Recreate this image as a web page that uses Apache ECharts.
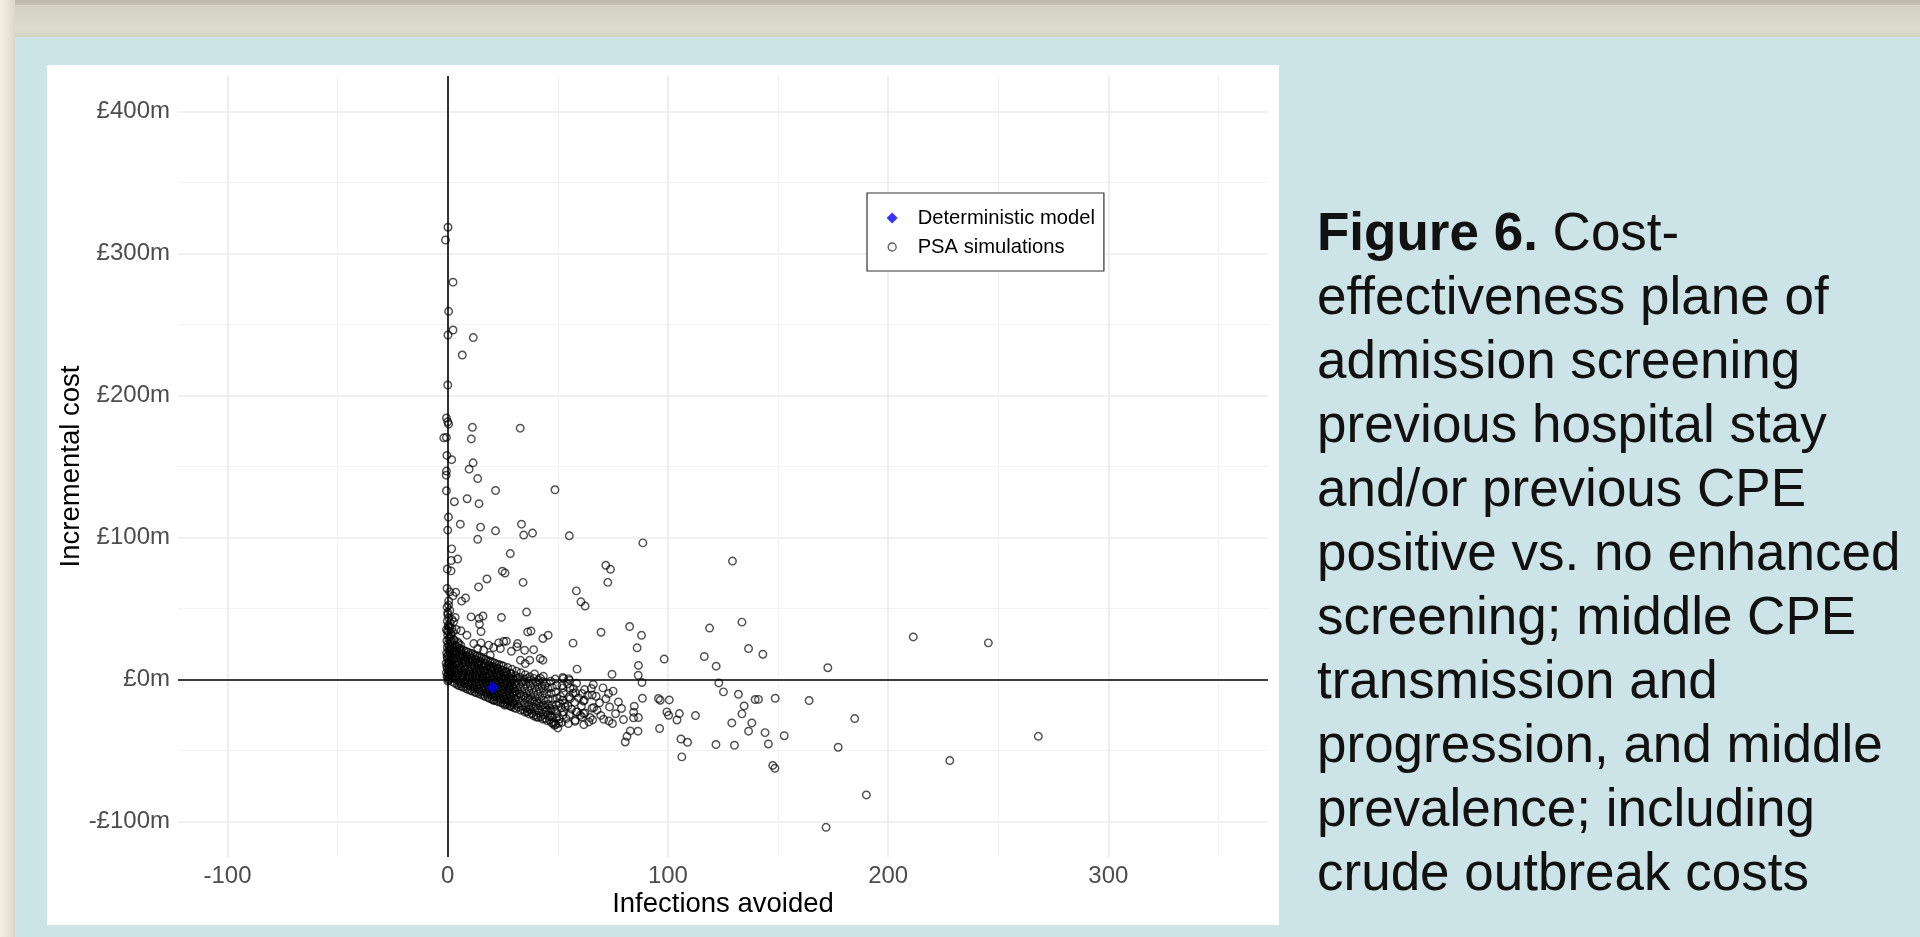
<!DOCTYPE html>
<html><head><meta charset="utf-8">
<script src="https://cdn.jsdelivr.net/npm/echarts@6/dist/echarts.min.js"></script>
<style>html,body{margin:0;padding:0;background:#cce3e7;}#chart{width:1920px;height:937px;}</style>
</head><body><div id="chart"></div>
<script>
// ---------- data ----------
const xMajorTicks = [-100, 0, 100, 200, 300];
const xMinorTicks = [-50, 50, 150, 250, 350];
const yMajorTicks = [-100, 0, 100, 200, 300, 400];
const yMinorTicks = [-50, 50, 150, 250, 350];

const deterministic = [[20.4, -5.6]];

// PSA points close to the vertical axis
const psaAxisCluster = [
[0.1,-1.2],[0.4,0.5],[-0.3,1.8],[0.8,2.6],[0.2,3.9],[-0.6,4.8],[1.1,5.5],[0.3,6.7],[-0.2,7.9],[0.7,8.8],[1.4,9.6],[0.1,10.7],[-0.7,11.5],[0.5,12.4],[1.0,13.6],[-0.1,14.5],[0.6,15.7],[1.6,16.3],[0.2,17.4],[-0.5,18.6],[0.9,19.5],[0.3,20.7],[1.3,21.4],[-0.2,22.6],[0.6,23.8],[0.1,25.1],[1.2,26.2],[-0.4,27.3],[0.5,28.6],[0.9,29.9],[0.0,31.2],[1.5,32.4],[0.3,33.9],[-0.6,35.1],[0.8,36.6],[0.2,38.2],[1.1,39.5],[-0.2,41.2],[0.5,43.5],[0.0,45.8],[0.9,48.6],[-0.3,51.0],[0.4,55.3],
[0.5,-0.4],[1.8,0.9],[-0.1,2.9],[1.3,3.4],[2.0,4.6],[0.9,6.1],[-0.4,9.2],[1.9,7.2],[2.3,10.1],[0.6,11.1],[1.7,12.8],[2.4,14.9],[-0.3,16.0],[1.9,18.2],[2.6,19.6],[1.0,22.3],[2.2,24.0],[1.7,27.0],[2.8,28.1],[1.4,30.6],[2.3,33.4],[-0.2,34.1],[0.4,37.4],[1.9,36.0]
];

// PSA points in the dense downward band
const psaBand = [
[3.2,-2.6],[2.7,0.8],[3.6,4.1],[3.0,7.3],[3.4,10.6],[2.8,13.8],[3.7,17.2],[3.1,20.5],[3.5,23.9],[2.9,27.4],
[4.3,-3.5],[4.0,0.0],[4.6,3.3],[3.9,6.5],[4.4,9.8],[4.1,13.1],[4.7,16.4],[3.8,19.7],[4.2,23.0],[4.5,26.4],
[5.2,-4.4],[4.9,-1.1],[5.5,2.2],[5.0,5.6],[5.3,8.9],[4.8,12.1],[5.6,15.5],[5.1,18.8],[5.4,22.0],[4.9,25.3],
[6.3,-4.8],[5.9,-1.6],[6.5,1.7],[6.1,4.9],[5.8,8.2],[6.4,11.5],[6.0,14.8],[6.6,18.1],[6.2,21.3],[5.9,24.1],
[7.1,-5.5],[7.4,-2.3],[6.9,1.0],[7.3,4.3],[7.6,7.5],[7.0,10.8],[7.5,14.1],[6.8,17.3],[7.2,20.6],
[8.2,-6.3],[7.9,-3.0],[8.5,0.3],[8.1,3.6],[7.8,6.8],[8.4,10.1],[8.0,13.4],[8.6,16.6],[8.3,19.8],
[9.1,-7.0],[9.4,-3.7],[8.9,-0.4],[9.3,2.9],[9.6,6.1],[9.0,9.4],[9.5,12.7],[8.8,15.9],[9.2,19.2],
[10.2,-7.6],[9.9,-4.3],[10.4,-1.0],[10.1,2.3],[9.8,5.6],[10.5,8.9],[10.0,12.1],[10.6,15.4],[10.3,18.5],
[11.1,-8.1],[11.4,-4.8],[10.9,-1.5],[11.3,1.8],[11.6,5.0],[11.0,8.3],[11.5,11.6],[10.8,14.8],[11.2,18.1],
[12.3,-8.9],[11.9,-5.6],[12.5,-2.3],[12.1,1.0],[11.8,4.3],[12.4,7.6],[12.0,10.9],[12.6,14.1],[12.2,17.2],
[13.0,-9.4],[13.4,-6.1],[12.9,-2.8],[13.3,0.5],[13.6,3.7],[13.1,7.0],[13.5,10.3],[12.8,13.5],[13.2,16.6],
[14.2,-10.0],[13.9,-6.7],[14.5,-3.4],[14.1,-0.1],[13.8,3.2],[14.4,6.5],[14.0,9.8],[14.6,13.0],[14.3,16.0],
[15.1,-10.6],[15.4,-7.3],[14.9,-4.0],[15.3,-0.7],[15.6,2.5],[15.0,5.8],[15.5,9.1],[14.8,12.4],[15.2,15.3],
[16.3,-11.3],[15.9,-8.0],[16.5,-4.7],[16.1,-1.4],[15.8,1.9],[16.4,5.1],[16.0,8.4],[16.6,11.7],[16.2,14.6],
[17.0,-12.0],[17.4,-8.7],[16.9,-5.4],[17.3,-2.1],[17.6,1.2],[17.1,4.4],[17.5,7.7],[16.8,11.0],[17.2,14.2],
[18.3,-12.7],[17.9,-9.4],[18.5,-6.1],[18.1,-2.8],[17.8,0.5],[18.4,3.8],[18.0,7.1],[18.6,10.3],[18.2,13.4],
[19.1,-13.4],[19.4,-10.1],[18.9,-6.8],[19.3,-3.5],[19.6,-0.2],[19.0,3.0],[19.5,6.3],[18.8,9.6],[19.2,12.8],
[20.2,-13.9],[19.9,-10.6],[20.5,-7.3],[20.1,-4.0],[19.8,-0.7],[20.4,2.6],[20.0,5.8],[20.6,9.1],[20.3,12.2],
[21.1,-14.6],[21.4,-11.3],[20.9,-8.0],[21.3,-4.7],[21.6,-1.4],[21.0,1.9],[21.5,5.1],[20.8,8.4],[21.2,11.7],
[22.3,-15.1],[21.9,-11.8],[22.5,-8.5],[22.1,-5.2],[21.8,-1.9],[22.4,1.4],[22.0,4.6],[22.6,7.9],[22.2,11.0],
[23.0,-15.7],[23.4,-12.4],[22.9,-9.1],[23.3,-5.8],[23.6,-2.5],[23.1,0.8],[23.5,4.0],[22.8,7.3],[23.2,10.6],
[24.2,-16.3],[23.9,-13.0],[24.5,-9.7],[24.1,-6.4],[23.8,-3.1],[24.4,0.2],[24.0,3.5],[24.6,6.8],[24.3,9.9],
[25.1,-16.8],[25.4,-13.5],[24.9,-10.2],[25.3,-6.9],[25.6,-3.6],[25.0,-0.3],[25.5,3.0],[24.8,6.2],[25.2,9.5],
[26.3,-17.4],[25.9,-14.1],[26.5,-10.8],[26.1,-7.5],[25.8,-4.2],[26.4,-0.9],[26.0,2.4],[26.6,5.6],
[27.0,-17.9],[27.4,-14.6],[26.9,-11.3],[27.3,-8.0],[27.6,-4.7],[27.1,-1.4],[27.5,1.9],[26.8,5.1],[27.2,8.4],
[28.3,-18.6],[27.9,-15.3],[28.5,-12.0],[28.1,-8.7],[27.8,-5.4],[28.4,-2.1],[28.0,1.2],[28.6,4.4],
[29.1,-19.2],[29.4,-15.9],[28.9,-12.6],[29.3,-9.3],[29.6,-6.0],[29.0,-2.7],[29.5,0.6],[28.8,3.9],[29.2,7.2],
[30.2,-19.9],[29.9,-16.6],[30.5,-13.3],[30.1,-10.0],[29.8,-6.7],[30.4,-3.4],[30.0,-0.1],
[31.1,-20.5],[31.4,-17.2],[30.9,-13.9],[31.3,-10.6],[31.6,-7.3],[31.0,-4.0],[31.5,-0.7],[30.8,2.6],[31.2,5.9],
[33.1,-21.6],[33.4,-18.3],[32.9,-15.0],[33.3,-11.7],[33.6,-8.4],[33.0,-5.1],[33.5,-1.8],[32.8,1.5],[33.2,4.8],
[35.1,-23.0],[35.4,-19.7],[34.9,-16.4],[35.3,-13.1],[35.6,-9.8],[35.0,-6.5],[35.5,-3.2],[34.8,0.1],[35.2,3.4],
[37.1,-24.4],[37.4,-21.1],[36.9,-17.8],[37.3,-14.5],[37.6,-11.2],[37.0,-7.9],[37.5,-4.6],[36.8,-1.3],[37.2,2.0],
[39.1,-25.6],[39.4,-22.3],[38.9,-19.0],[39.3,-15.7],[39.6,-12.4],[39.0,-9.1],[39.5,-5.8],[38.8,-2.5],[39.2,0.8],[39.4,3.9],
[41.1,-26.7],[41.4,-23.4],[40.9,-20.1],[41.3,-16.8],[41.6,-13.5],[41.0,-10.2],[41.5,-6.9],[40.8,-3.6],[41.2,-0.3],
[43.1,-27.8],[43.4,-24.5],[42.9,-21.2],[43.3,-17.9],[43.6,-14.6],[43.0,-11.3],[43.5,-8.0],[42.8,-4.7],[43.2,-1.4],[43.4,2.3],
[45.1,-29.0],[45.4,-25.2],[44.9,-21.5],[45.3,-17.6],[45.6,-13.8],[45.0,-10.1],[45.5,-6.2],[44.8,-2.5],
[47.1,-30.4],[47.4,-26.3],[46.9,-22.1],[47.3,-18.0],[47.6,-13.9],[47.0,-9.8],[47.5,-5.6],[46.8,-1.2],
[49.1,-31.5],[49.4,-27.0],[48.9,-22.4],[49.3,-17.9],[49.6,-13.2],[49.0,-8.7],[49.5,-4.1],[48.8,0.3],
[51.8,-30.2],[52.3,-25.1],[51.6,-19.8],[52.1,-14.6],[52.5,-9.5],[51.9,-4.2],[52.2,1.5],
[54.8,-31.0],[55.3,-24.7],[54.6,-18.5],[55.1,-12.2],[55.5,-6.0],[54.9,0.6],
[57.8,-29.5],[58.3,-22.8],[57.6,-16.1],[58.1,-9.4],[58.5,-2.7],
[61.8,-31.8],[62.3,-23.6],[61.6,-15.2],[62.1,-7.1],
[65.8,-28.4],[66.3,-19.7],[65.6,-10.9],[66.1,-3.5]
];

// extra PSA points filling the core of the band
const psaCore = [
[2.2,-1.5],[3.8,2.5],[5.7,-2.9],[6.8,3.1],[8.7,-4.9],[9.7,1.2],[11.7,-6.6],[12.7,2.8],[14.7,-8.5],[15.7,0.9],[17.7,-10.3],[18.7,-0.9],[20.7,-12.1],[21.7,-2.8],[23.7,-13.9],[24.7,-4.8],[26.7,-15.8],[27.7,-6.5],[29.7,-17.6],[30.7,-8.4],[32.2,-19.4],[32.6,-10.2],[34.2,-21.2],[34.6,-11.8],[36.2,-22.7],[36.6,-13.6],[38.2,-24.0],[38.6,-15.1],[40.2,-25.1],[40.6,-16.4],[42.2,-26.2],[42.6,-18.6],[44.2,-27.6],[44.6,-19.8],[46.2,-28.4],[46.6,-20.3],[48.2,-29.8],[48.6,-21.0],[50.4,-30.8],[50.8,-16.7],
[2.1,21.6],[3.3,15.3],[5.8,20.2],[7.7,12.3],[9.8,17.0],[11.9,9.5],[13.7,12.1],[16.7,6.4],[19.7,8.1],[22.7,3.3],[25.7,5.0],[28.7,0.2],[31.8,1.2],[34.2,-1.6],[36.1,0.7],[40.1,-1.9],[42.1,0.9],[44.1,-4.4],
[53.8,-27.5],[56.2,-20.9],[59.4,-13.0],[60.7,-18.7],[63.5,-11.2],[64.1,-29.9],[68.9,-16.4],[69.5,-25.3],[71.8,-13.6],[76.2,-24.1],[77.5,-15.8],[75.1,-8.2],[78.9,-20.4],[54.4,-3.1],[56.9,-9.7],[50.7,-27.9],[51.2,-11.8],[53.1,-16.9]
];

// PSA points scattered above the band
const psaUpper = [
[0.1,318.5],[-1.0,309.5],[2.4,279.8],[0.4,259.3],[2.4,246.1],[0.1,242.6],[11.6,240.8],[6.6,228.5],[0.0,207.4],[-0.6,184.2],[0.0,181.5],[0.4,179.8],[11.2,177.6],[32.9,177.0],[-1.8,170.2],[-0.6,170.5],[10.7,169.4],[-0.4,157.8],[1.8,154.8],[11.5,152.6],[9.7,148.1],[-0.6,146.8],[-0.7,143.9],[13.6,141.5],[-0.6,132.9],[21.7,133.1],[48.7,133.6],[3.0,125.2],[8.8,127.3],[14.2,123.8],[0.3,114.4],[0.0,105.2],[5.7,109.4],[14.9,107.3],[21.7,104.7],[33.5,109.4],[34.5,101.7],[38.5,103.1],[55.2,101.2],[13.6,98.7],[88.6,96.2],[1.8,92.0],[4.5,84.8],[1.6,83.8],[28.4,88.7],[71.8,80.4],[73.9,77.6],[24.8,76.3],[26.0,75.0],[-0.2,77.8],[1.5,76.5],[72.7,68.4],[129.3,83.4],[17.8,70.8],[14.0,65.2],[34.2,68.4],[-0.3,64.1],[0.9,61.7],[3.6,61.5],[2.4,58.9],[8.1,57.4],[6.3,55.2],[0.4,52.4],[0.0,47.2],[35.8,47.5],[58.4,62.4],[60.5,54.7],[62.4,51.7],
[10.6,44.1],[14.2,43.0],[16.0,44.7],[14.4,39.0],[15.1,33.8],[24.4,43.7],[36.3,33.5],[37.8,34.1],[43.2,28.9],[45.6,31.2],[56.9,25.6],[69.6,33.3],[82.6,37.3],[88.0,31.1],[118.9,36.2],[133.6,40.4],[86.0,22.3],[136.6,21.8],[143.1,17.8],[116.5,16.2],[98.3,14.4],[86.6,9.9],[58.7,7.3],[121.9,9.4],[74.6,3.7],[86.5,3.0],[172.6,8.3],[211.4,30.0],[245.5,25.8],
[31.7,25.3],[34.9,20.6],[39.0,21.0],[42.0,14.8],[43.2,13.6],[25.4,26.8],[23.1,25.8],[26.6,27.0],[18.6,24.2],[20.8,22.5],[23.9,21.8],[16.3,20.6],[19.3,17.1],[11.8,25.3],[8.7,31.2],[6.0,34.3],[3.9,35.2],[2.7,40.6],[3.4,43.7],[1.9,42.3],[13.6,21.8],[15.1,25.8],[28.9,19.9],[31.4,23.0],[33.0,13.6],[35.2,11.2],[37.2,13.6]
];

// PSA points scattered below / right of the band
const psaLower = [
[88.2,-2.1],[123.1,-2.4],[125.2,-8.7],[132.0,-10.4],[139.6,-14.1],[141.1,-14.0],[148.7,-13.2],[164.1,-14.8],[134.6,-18.6],[133.6,-24.2],[138.1,-30.6],[129.0,-30.6],[136.6,-36.4],[144.1,-37.4],[152.8,-39.6],[145.6,-45.4],[130.2,-46.3],[121.8,-45.8],[112.5,-25.4],[105.2,-24.0],[104.1,-28.5],[99.5,-22.8],[100.3,-25.2],[95.7,-13.4],[96.5,-14.6],[100.6,-14.4],[88.4,-13.2],[84.7,-18.8],[84.4,-23.0],[84.4,-27.0],[86.6,-26.8],[79.8,-28.2],[74.8,-31.0],[73.2,-29.2],[70.8,-28.0],[82.9,-36.2],[81.4,-40.0],[80.6,-44.0],[86.4,-36.4],[96.2,-34.5],[105.9,-41.9],[108.9,-44.2],[106.3,-54.5],[73.5,-19.3],[73.0,-9.9],[70.5,-5.9],[67.4,-11.8],[65.2,-6.3],[65.5,-20.2],[61.0,-9.9],[62.0,-14.6],[61.7,-24.0],[60.2,-25.2],[64.7,-26.8],[67.8,-21.6],[48.5,-32.2],[50.0,-34.1],[40.2,-26.4],[44.6,-22.8],[46.6,-26.4],[47.8,-31.0],[49.6,-24.0],[36.0,-22.8],[37.0,-20.9],[25.8,-18.1],[28.4,-18.6],[20.8,-14.6],
[184.8,-27.5],[177.3,-47.7],[268.2,-40.0],[228.0,-57.1],[190.1,-81.3],[171.8,-104.1],[147.6,-60.5],[148.6,-62.5],
[52.6,0.7],[55.3,-0.5],[57.1,-6.3],[52.3,-5.9],[53.4,-19.3],[52.6,-22.8],[58.7,-22.8],[57.9,-28.7],[60.9,-26.4],[55.6,-13.4]
];

const captionLines = [
  ['Figure 6.', ' Cost-'],
  ['', 'effectiveness plane of'],
  ['', 'admission screening'],
  ['', 'previous hospital stay'],
  ['', 'and/or previous CPE'],
  ['', 'positive vs. no enhanced'],
  ['', 'screening; middle CPE'],
  ['', 'transmission and'],
  ['', 'progression, and middle'],
  ['', 'prevalence; including'],
  ['', 'crude outbreak costs']
];

// ---------- chart ----------
const FONT = '"Liberation Sans", Arial, Helvetica, sans-serif';
const psaAll = psaAxisCluster.concat(psaBand, psaCore, psaUpper, psaLower);
const captionText = captionLines.map(function (l) {
  return (l[0] ? '{b|' + l[0] + '}' : '') + '{r|' + l[1] + '}';
}).join('\n');

const chart = echarts.init(document.getElementById('chart'), null, {renderer: 'canvas'});
const yFmt = function (v) { return v < 0 ? '-£' + (-v) + 'm' : '£' + v + 'm'; };

const diamondIcon = 'path://M0,0L0,0M26,11L26,11M5.5,0L11,5.5L5.5,11L0,5.5Z';
const circleIcon = 'path://M0,0L0,0M26,11L26,11M9.5,5.5A4,4,0,1,1,1.5,5.5A4,4,0,1,1,9.5,5.5Z';

chart.setOption({
  animation: false,
  backgroundColor: '#cce3e7',
  textStyle: {fontFamily: FONT},
  graphic: [
    {type: 'rect', z: -10, silent: true, shape: {x: 0, y: 0, width: 1920, height: 37},
     style: {fill: {type: 'linear', x: 0, y: 0, x2: 0, y2: 1, colorStops: [
       {offset: 0, color: '#bdbaad'}, {offset: 0.12, color: '#c4c1b4'}, {offset: 0.14, color: '#d4d2c4'},
       {offset: 0.5, color: '#d8d6c8'}, {offset: 0.75, color: '#dddbcd'}, {offset: 0.95, color: '#d8d6c8'},
       {offset: 1, color: '#d0cebf'}]}}},
    {type: 'rect', z: -10, silent: true, shape: {x: 0, y: 0, width: 15, height: 937},
     style: {fill: {type: 'linear', x: 0, y: 0, x2: 1, y2: 0, colorStops: [
       {offset: 0, color: '#f1eee4'}, {offset: 0.6, color: '#e6e2d6'}, {offset: 1, color: '#d9d6ca'}]}}},
    {type: 'rect', z: -10, silent: true, shape: {x: 47, y: 65, width: 1232, height: 860},
     style: {fill: '#ffffff'}},
    {type: 'text', z: 10, silent: true, x: 1317, y: 203.5,
     style: {text: captionText, fill: '#111111', font: '53px ' + FONT, lineHeight: 64,
       verticalAlign: 'top', align: 'left',
       rich: {
         b: {fontSize: 53, fontWeight: 'bold', fontFamily: FONT, lineHeight: 64, fill: '#111111'},
         r: {fontSize: 53, fontWeight: 'normal', fontFamily: FONT, lineHeight: 64, fill: '#111111'}
       }}}
  ],
  grid: {left: 178, top: 76, width: 1090, height: 781, containLabel: false, outerBoundsMode: 'none'},
  legend: {
    orient: 'vertical', left: 867, top: 193,
    itemWidth: 26, itemHeight: 11, itemGap: 9,
    padding: [15, 9, 14, 19],
    borderColor: '#333333', borderWidth: 1.2, borderRadius: 0, backgroundColor: '#ffffff',
    selectedMode: false,
    textStyle: {fontSize: 20.2, color: '#000000', fontFamily: FONT, lineHeight: 20},
    data: [
      {name: 'Deterministic model', icon: diamondIcon, itemStyle: {color: '#0000ff', borderWidth: 0}},
      {name: 'PSA simulations', icon: circleIcon, itemStyle: {color: '#ffffff', borderColor: '#333333', borderWidth: 1.3}}
    ]
  },
  xAxis: [
    {type: 'value', min: -122.5, max: 372.5, gridIndex: 0,
     name: 'Infections avoided', nameLocation: 'middle', nameGap: 33, nameMoveOverlap: false,
     nameTextStyle: {fontSize: 27.5, color: '#000000', fontFamily: FONT},
     axisLine: {show: false}, axisTick: {show: false, customValues: xMajorTicks},
     axisLabel: {customValues: xMajorTicks, fontSize: 24, color: '#4d4d4d', margin: 7.5, fontFamily: FONT},
     splitLine: {show: true, lineStyle: {color: '#ebebeb', width: 1.7}}},
    {type: 'value', min: -122.5, max: 372.5, gridIndex: 0,
     axisLine: {show: false}, axisTick: {show: false, customValues: xMinorTicks},
     axisLabel: {show: false},
     splitLine: {show: true, lineStyle: {color: '#f2f2f2', width: 1.1}}}
  ],
  yAxis: [
    {type: 'value', min: -125, max: 425, gridIndex: 0,
     name: 'Incremental cost', nameLocation: 'middle', nameGap: 93, nameRotate: 90, nameMoveOverlap: false,
     nameTextStyle: {fontSize: 27.5, color: '#000000', fontFamily: FONT},
     axisLine: {show: false}, axisTick: {show: false, customValues: yMajorTicks},
     axisLabel: {customValues: yMajorTicks, fontSize: 24, color: '#4d4d4d', margin: 8, fontFamily: FONT, formatter: yFmt, padding: [5, 0, 0, 0]},
     splitLine: {show: true, lineStyle: {color: '#ebebeb', width: 1.7}}},
    {type: 'value', min: -125, max: 425, gridIndex: 0,
     axisLine: {show: false}, axisTick: {show: false, customValues: yMinorTicks},
     axisLabel: {show: false},
     splitLine: {show: true, lineStyle: {color: '#f2f2f2', width: 1.1}}}
  ],
  series: [
    {type: 'scatter', name: 'refLines', xAxisIndex: 0, yAxisIndex: 0, data: [], z: 2, silent: true,
     markLine: {silent: true, symbol: ['none', 'none'], label: {show: false},
       lineStyle: {color: '#000000', width: 1.6, type: 'solid'},
       emphasis: {disabled: true},
       data: [{xAxis: 0}, {yAxis: 0}]}},
    {type: 'scatter', name: 'PSA simulations', xAxisIndex: 0, yAxisIndex: 0, data: psaAll, z: 3,
     symbol: 'circle', symbolSize: 7.5, silent: true,
     itemStyle: {color: 'rgba(255,255,255,0)', borderColor: 'rgba(0,0,0,0.85)', borderWidth: 1.45},
     emphasis: {disabled: true}},
    {type: 'scatter', name: 'Deterministic model', xAxisIndex: 0, yAxisIndex: 0, data: deterministic, z: 4,
     symbol: 'diamond', symbolSize: 12, silent: true,
     itemStyle: {color: '#0000ff'}, emphasis: {disabled: true}}
  ]
});
</script></body></html>
